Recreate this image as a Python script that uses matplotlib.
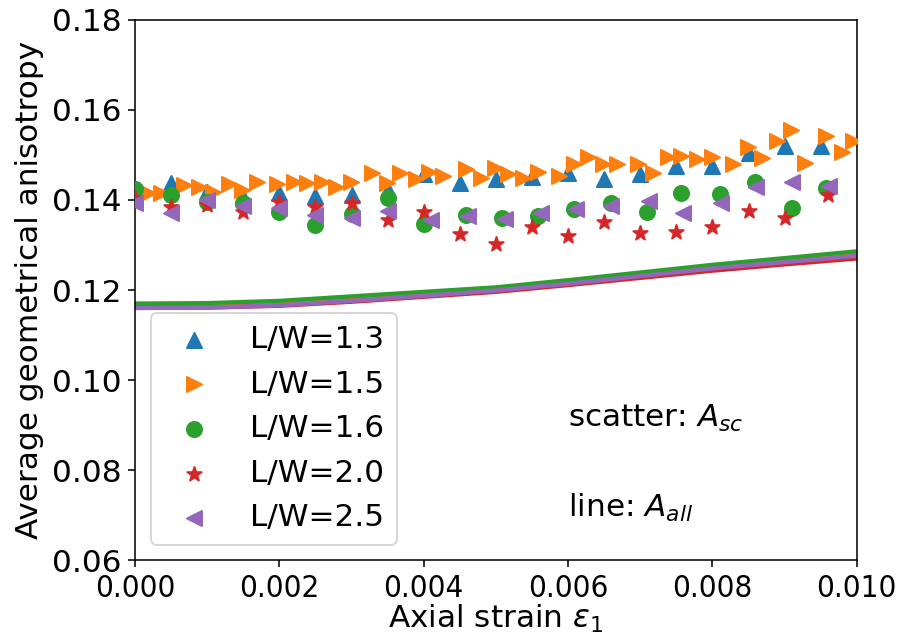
import matplotlib
matplotlib.use("Agg")
import matplotlib.pyplot as plt

# ---------------- data ----------------
labels = ["L/W=1.3", "L/W=1.5", "L/W=1.6", "L/W=2.0", "L/W=2.5"]

x_13 = [0.0, 0.0005, 0.001, 0.0015, 0.002, 0.0025, 0.003, 0.0035, 0.004, 0.0045,
        0.005, 0.0055, 0.006, 0.0065, 0.007, 0.0075, 0.008, 0.0085, 0.009, 0.0095]
y_13 = [0.1425, 0.1437, 0.1418, 0.1407, 0.1415, 0.1409, 0.1411, 0.1422, 0.1458, 0.1437,
        0.1446, 0.1450, 0.1461, 0.1446, 0.1458, 0.1475, 0.1476, 0.1504, 0.1519, 0.1520]

x_15 = [0.0, 0.000185, 0.000357, 0.00068, 0.00088, 0.00108, 0.0013, 0.00148, 0.00169,
        0.00197, 0.0022, 0.00238, 0.00259, 0.00278, 0.00299, 0.00329, 0.00349, 0.00367,
        0.00389, 0.00407, 0.00427, 0.00458, 0.00479, 0.00499, 0.00517, 0.00537, 0.00558,
        0.00588, 0.00608, 0.00628, 0.00648, 0.00668, 0.00697, 0.00718, 0.00738, 0.00757,
        0.00778, 0.0080, 0.00829, 0.00849, 0.00868, 0.00889, 0.00909, 0.00928, 0.00958,
        0.0098, 0.00995]
y_15 = [0.1428, 0.1416, 0.1415, 0.1433, 0.1428, 0.1418, 0.1436, 0.1422, 0.1439,
        0.1436, 0.1439, 0.1437, 0.1439, 0.1428, 0.1441, 0.1459, 0.1437, 0.1459,
        0.1446, 0.1463, 0.1453, 0.1468, 0.1448, 0.1470, 0.1458, 0.1448, 0.1463,
        0.1453, 0.1481, 0.1495, 0.1481, 0.1481, 0.1481, 0.1461, 0.1495, 0.1497,
        0.1490, 0.1495, 0.1481, 0.1517, 0.1493, 0.1530, 0.1556, 0.1483, 0.1542,
        0.1507, 0.1530]

x_16 = [0.0, 0.0005, 0.001, 0.0015, 0.002, 0.0025, 0.003, 0.0035, 0.004, 0.00458,
        0.00508, 0.00559, 0.00608, 0.0066, 0.0071, 0.00757, 0.0081, 0.00859, 0.0091, 0.00958]
y_16 = [0.1425, 0.1410, 0.1395, 0.1394, 0.1374, 0.1345, 0.1370, 0.1404, 0.1347, 0.1367,
        0.1359, 0.1364, 0.1379, 0.1393, 0.1374, 0.1416, 0.1413, 0.1441, 0.1382, 0.1426]

x_20 = [0.0, 0.0005, 0.001, 0.0015, 0.002, 0.0025, 0.003, 0.0035, 0.004, 0.0045,
        0.005, 0.0055, 0.006, 0.0065, 0.007, 0.0075, 0.008, 0.0085, 0.009, 0.0096]
y_20 = [0.1405, 0.1384, 0.1389, 0.1374, 0.1396, 0.1384, 0.1393, 0.1356, 0.1374, 0.1324,
        0.1303, 0.1341, 0.1319, 0.1352, 0.1327, 0.1330, 0.1341, 0.1376, 0.1359, 0.1411]

x_25 = [0.0, 0.0005, 0.001, 0.0015, 0.002, 0.0025, 0.003, 0.0035, 0.0041, 0.00462,
        0.00513, 0.00562, 0.00611, 0.0066, 0.00712, 0.00759, 0.00812, 0.0086, 0.0091, 0.00962]
y_25 = [0.1393, 0.1372, 0.1400, 0.1387, 0.1382, 0.1367, 0.1359, 0.1376, 0.1356, 0.1364,
        0.1357, 0.1372, 0.1379, 0.1387, 0.1398, 0.1372, 0.1394, 0.1428, 0.1441, 0.1430]

# A_all lines
x_line = [0.0, 0.001, 0.002, 0.003, 0.004, 0.005, 0.006, 0.007, 0.008, 0.009, 0.010]
line_13 = [0.1164, 0.1164, 0.1169, 0.1179, 0.1190, 0.1201, 0.1216, 0.1232, 0.1249, 0.1264, 0.1278]
line_15 = [0.1166, 0.1166, 0.1171, 0.1181, 0.1192, 0.1203, 0.1218, 0.1234, 0.1251, 0.1266, 0.1280]
line_16 = [0.1170, 0.1171, 0.1176, 0.1186, 0.1196, 0.1206, 0.1222, 0.1239, 0.1256, 0.1271, 0.1286]
line_20 = [0.1161, 0.1161, 0.1165, 0.1174, 0.1185, 0.1196, 0.1211, 0.1227, 0.1243, 0.1257, 0.1270]
line_25 = [0.1160, 0.1161, 0.1166, 0.1176, 0.1187, 0.1199, 0.1214, 0.1231, 0.1248, 0.1262, 0.1276]

x_ticks = [0.000, 0.002, 0.004, 0.006, 0.008, 0.010]
y_ticks = [0.06, 0.08, 0.10, 0.12, 0.14, 0.16, 0.18]

# ---------------- plot ----------------
plt.rcParams['font.family'] = ['DejaVu Sans']
plt.rcParams['font.size'] = 16

fig = plt.figure(figsize=(900 / 140, 641 / 140), dpi=140)
ax = fig.add_axes([0.150, 0.126, 0.802, 0.843])

colors = ['tab:blue', 'tab:orange', 'tab:green', 'tab:red', 'tab:purple']
markers = ['^', '>', 'o', '*', '<']
xs = [x_13, x_15, x_16, x_20, x_25]
ys = [y_13, y_15, y_16, y_20, y_25]
lines = [line_13, line_15, line_16, line_20, line_25]

for c, ly in zip(colors, lines):
    ax.plot(x_line, ly, color=c, lw=2.2)

for x, y, c, m, lab in zip(xs, ys, colors, markers, labels):
    ax.scatter(x, y, color=c, marker=m, s=60, label=lab, zorder=3)

ax.set_xlim(0, 0.010)
ax.set_ylim(0.06, 0.18)
ax.set_xticks(x_ticks)
ax.set_xticklabels([f"{v:.3f}" for v in x_ticks], fontstretch='condensed')
ax.set_yticks(y_ticks)
ax.set_yticklabels([f"{v:.2f}" for v in y_ticks])
ax.set_xlabel(r"Axial strain $\varepsilon_1$", labelpad=0)
ax.set_ylabel("Average geometrical anisotropy")

ax.legend(loc='lower left')
ax.text(0.0060, 0.0896, r"scatter: $A_{sc}$")
ax.text(0.0060, 0.0696, r"line: $A_{all}$")

fig.savefig("out.png", dpi=140)
